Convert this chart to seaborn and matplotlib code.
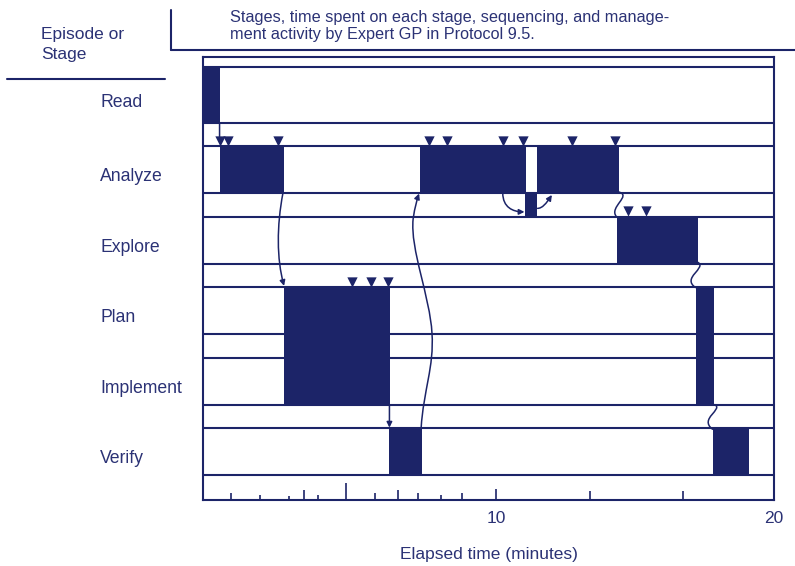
"""
Problem-solving timeline: stages, time on each stage and management
activity (inverted triangles) for Expert GP, Protocol 9.5.
"""
import matplotlib

matplotlib.use("Agg")  # headless
import matplotlib.pyplot as plt  # noqa: E402
import matplotlib.transforms as mtransforms  # noqa: E402
from matplotlib.lines import Line2D  # noqa: E402
from matplotlib.patches import FancyArrowPatch  # noqa: E402
from matplotlib.path import Path  # noqa: E402

import pandas as pd  # noqa: E402
import seaborn as sns  # noqa: E402

# --- data -------------------------------------------------------------------
STAGES = ["Read", "Analyze", "Explore", "Plan", "Implement", "Verify"]

# episodes (elapsed minutes); a bar runs from the top of its first stage row
# to the bottom of its last stage row
EP_START = [0.00, 0.60, 2.84, 6.51, 7.60, 11.70, 14.50, 17.27, 17.86]
EP_END = [0.60, 2.84, 6.55, 7.67, 11.31, 14.57, 17.34, 17.90, 19.12]
EP_FIRST = ["Read", "Analyze", "Plan", "Verify", "Analyze", "Analyze",
            "Explore", "Plan", "Verify"]
EP_LAST = ["Read", "Analyze", "Implement", "Verify", "Analyze", "Analyze",
           "Explore", "Implement", "Verify"]

# brief excursion drawn in the band between Analyze and Explore
BRIEF_START = [11.28]
BRIEF_END = [11.70]
BRIEF_FROM = ["Analyze"]
BRIEF_TO = ["Explore"]

# management activity markers (minute, stage row they sit on)
MGMT_TIME = [0.60, 0.88, 2.63, 7.92, 8.55, 10.51, 11.21, 12.92, 14.43,
             14.89, 15.52, 5.22, 5.88, 6.48]
MGMT_STAGE = ["Analyze"] * 9 + ["Explore"] * 2 + ["Plan"] * 3

# axis ticks (the printed time scale is uneven)
TICK_MIN = [0.98, 2.00, 3.01, 3.54, 4.03, 5.01, 6.02, 6.83, 7.53, 8.34, 9.07,
            13.56, 16.81]
TICK_LABEL_POS = [10.26, 20]
TICK_LABELS = ["10", "20"]

# transition curves (minute, row units), cubic Bezier control points
TRANS_CURVES = [
    # Read -> Analyze
    ([(0.58, 2.0), (0.58, 2.3), (0.58, 2.5), (0.58, 2.75)], False),
    # Analyze -> Plan
    ([(2.80, 5.0), (2.58, 6.4), (2.58, 7.8), (2.84, 8.95)], True),
    # Plan/Implement -> Verify
    ([(6.53, 14.0), (6.53, 14.3), (6.53, 14.6), (6.53, 14.98)], True),
    # Verify -> Analyze (long S-curve, drawn upward)
    ([(7.64, 15.0), (7.72, 13.4), (8.10, 12.4), (8.02, 10.96),
      (7.95, 9.4), (7.25, 7.4), (7.36, 6.1),
      (7.42, 5.6), (7.50, 5.25), (7.57, 5.02)], True),
    # Analyze -> brief excursion
    ([(10.50, 5.0), (10.50, 5.6), (10.85, 5.8), (11.26, 5.8)], True),
    # brief excursion -> Analyze
    ([(11.72, 5.65), (11.88, 5.65), (12.02, 5.45), (12.22, 5.08)], True),
    # Analyze -> Explore
    ([(14.55, 4.95), (15.05, 5.1), (14.20, 5.6), (14.48, 6.0)], False),
    # Explore -> Plan
    ([(17.34, 7.95), (17.65, 8.2), (16.75, 8.6), (17.25, 9.02)], False),
    # Implement -> Verify
    ([(17.92, 14.0), (18.25, 14.2), (17.35, 14.6), (17.85, 15.05)], False),
]

# --- style ------------------------------------------------------------------
NAVY = "#1c2468"
INK = "#2b3275"
LW = 1.5
PX_PER_UNIT = 23.5
TICK_LEN_PX = [7, 5, 4, 10, 5, 17, 7, 10, 7, 5, 7, 9, 9]

sns.set_theme(style="white")
plt.rcParams["font.family"] = ["Liberation Sans", "DejaVu Sans"]


def row_top(stage):
    i = STAGES.index(stage)
    return -0.35 if i == 0 else 3.0 * i


def row_bottom(stage):
    return 3.0 * STAGES.index(stage) + 2.0


fig = plt.figure(figsize=(7.95, 5.66), dpi=100)
ax = fig.add_axes([203 / 795, 1 - 500 / 566, 571 / 795, 443 / 566])

# row boundary lines
levels = [row_top(s) for s in STAGES] + [row_bottom(s) for s in STAGES]
ax.hlines(levels, 0, 20, color=NAVY, lw=LW, zorder=1)

# episode bars
for s, e, a, b in zip(EP_START, EP_END, EP_FIRST, EP_LAST):
    y0, y1 = row_top(a), row_bottom(b)
    ax.bar(s, y1 - y0, width=e - s, bottom=y0, align="edge",
           color=NAVY, lw=0, zorder=3)
for s, e, a, b in zip(BRIEF_START, BRIEF_END, BRIEF_FROM, BRIEF_TO):
    y0, y1 = row_bottom(a), row_top(b)
    ax.bar(s, y1 - y0, width=e - s, bottom=y0, align="edge",
           color=NAVY, lw=0, zorder=3)

# management markers
mgmt = pd.DataFrame({
    "minute": MGMT_TIME,
    "y": [row_top(s) - 0.22 for s in MGMT_STAGE],
})
sns.scatterplot(data=mgmt, x="minute", y="y", marker="v", s=55,
                color=NAVY, edgecolor=NAVY, linewidth=0, ax=ax, zorder=4,
                legend=False)

# transitions
for pts, head in TRANS_CURVES:
    codes = [Path.MOVETO] + [Path.CURVE4] * (len(pts) - 1)
    arrow = FancyArrowPatch(path=Path(pts, codes),
                            arrowstyle="-|>" if head else "-",
                            mutation_scale=8, color=NAVY, lw=1.1, zorder=5)
    ax.add_patch(arrow)

# axes frame
ax.set_xlim(0, 20)
ax.set_ylim(18.06, -0.79)
for sp in ax.spines.values():
    sp.set_visible(True)
    sp.set_color(NAVY)
    sp.set_linewidth(LW)
ax.set_yticks([])
ax.set_xticks(TICK_LABEL_POS, TICK_LABELS)
ax.tick_params(axis="x", bottom=True, direction="in", length=8, width=1.2,
               color=NAVY, labelcolor=INK, labelsize=12.5, pad=8)
ax.vlines(TICK_MIN, 18.06, [18.06 - L / PX_PER_UNIT for L in TICK_LEN_PX],
          color=NAVY, lw=1.2, zorder=2)
ax.set_xlabel("Elapsed time (minutes)", fontsize=12.5, color=INK)
ax.xaxis.set_label_coords(0.5, -0.106)
ax.set_ylabel("")

# stage labels
lab_tr = mtransforms.blended_transform_factory(fig.transFigure, ax.transData)
for s in STAGES:
    yc = (row_top(s) + row_bottom(s)) / 2 + 0.3
    ax.text(100 / 795, yc, s, transform=lab_tr, ha="left", va="center",
            fontsize=12.7, color=INK)

# header
fig.text(41 / 795, 1 - 27 / 566, "Episode or\nStage", ha="left", va="top",
         fontsize=12.5, color=INK, linespacing=1.45)
fig.text(230 / 795, 1 - 10 / 566,
         "Stages, time spent on each stage, sequencing, and manage-\n"
         "ment activity by Expert GP in Protocol 9.5.",
         ha="left", va="top", fontsize=11.7, color=INK, linespacing=1.15)
fig.add_artist(Line2D([7 / 795, 165 / 795], [1 - 79 / 566] * 2,
                      color=NAVY, lw=LW))
fig.add_artist(Line2D([171 / 795, 171 / 795], [1 - 10 / 566, 1 - 50 / 566],
                      color=NAVY, lw=LW))
fig.add_artist(Line2D([171 / 795, 1.0], [1 - 50 / 566] * 2,
                      color=NAVY, lw=LW))

fig.savefig("out.png", dpi=100)
